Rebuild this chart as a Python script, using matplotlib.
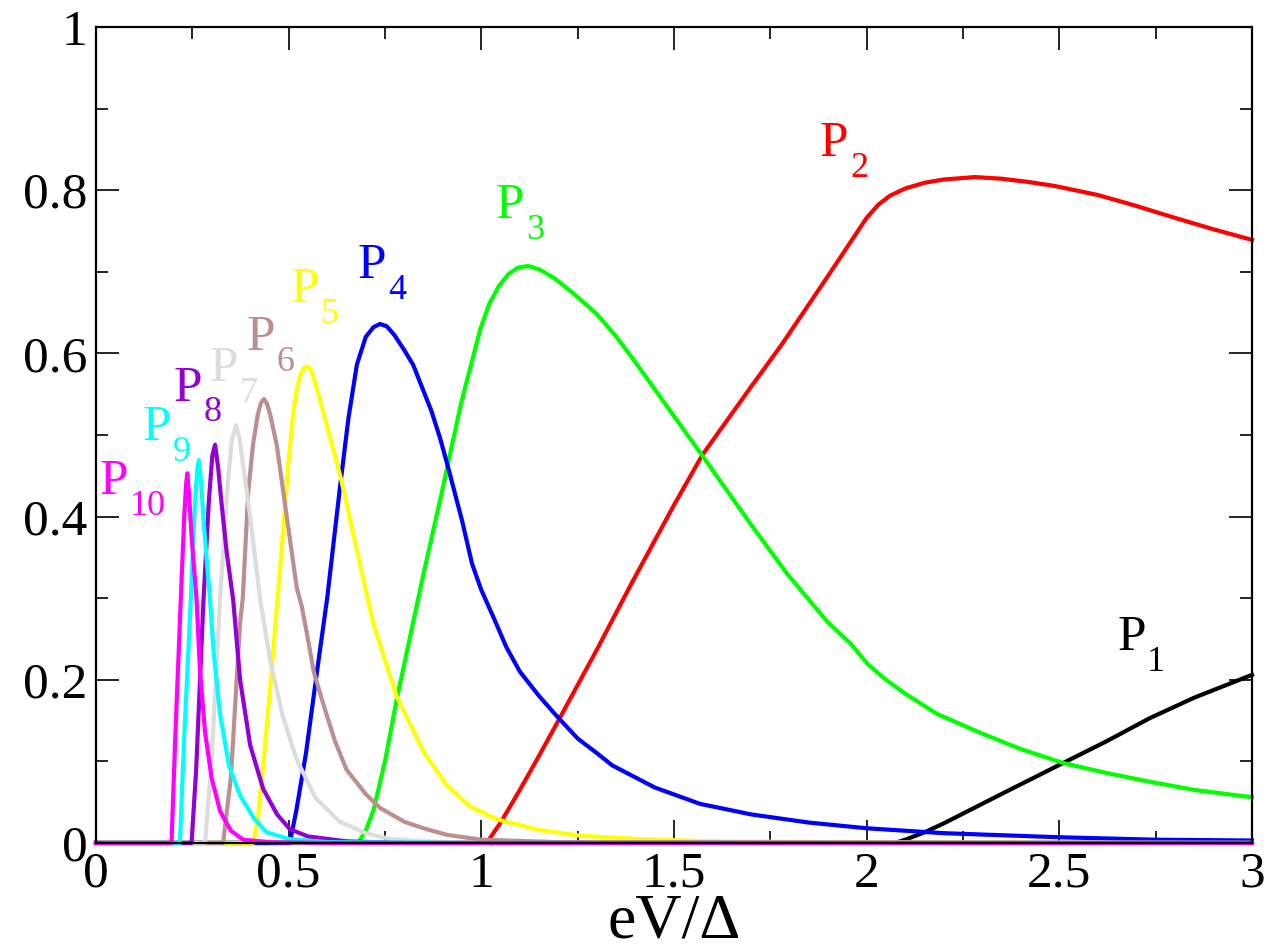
import matplotlib
matplotlib.use("Agg")
import matplotlib.pyplot as plt
from matplotlib.ticker import MultipleLocator, FormatStrFormatter

plt.rcParams['font.family'] = ['Liberation Serif', 'DejaVu Serif']

# curves (x = eV/Delta, y = P_n)
p1_x = [0, 2.06, 2.08, 2.1, 2.15, 2.2, 2.25, 2.35, 2.51, 2.62, 2.735, 2.85, 3.0]
p1_y = [0, 0, 0.001, 0.004, 0.013, 0.024, 0.036, 0.06, 0.098, 0.124, 0.153, 0.178, 0.206]

p2_x = [0, 1.0, 1.014, 1.05, 1.1, 1.15, 1.2, 1.3, 1.392, 1.5, 1.573, 1.7, 1.78, 1.9, 2.0,
        2.03, 2.06, 2.1, 2.15, 2.2, 2.281, 2.35, 2.42, 2.489, 2.6, 2.697, 2.8, 2.9, 3.0]
p2_y = [0, 0, 0, 0.025, 0.065, 0.107, 0.15, 0.237, 0.32, 0.414, 0.475, 0.559, 0.611, 0.695, 0.766,
        0.782, 0.793, 0.802, 0.809, 0.813, 0.816, 0.814, 0.81, 0.805, 0.794, 0.781, 0.766, 0.752, 0.739]

p3_x = [0, 0.675, 0.68, 0.70, 0.72, 0.75, 0.78, 0.85, 0.893, 0.948, 0.997, 1.02, 1.045, 1.07,
        1.095, 1.121, 1.15, 1.19, 1.24, 1.3, 1.351, 1.4, 1.5, 1.573, 1.7, 1.795, 1.9, 1.957,
        2.003, 2.05, 2.1, 2.183, 2.3, 2.4, 2.51, 2.62, 2.735, 2.85, 3.0]
p3_y = [0, 0, 0, 0.015, 0.04, 0.1, 0.175, 0.33, 0.42, 0.54, 0.629, 0.66, 0.682, 0.697,
        0.705, 0.707, 0.703, 0.692, 0.673, 0.648, 0.62, 0.589, 0.523, 0.475, 0.39, 0.329, 0.27, 0.245,
        0.219, 0.2, 0.183, 0.158, 0.134, 0.115, 0.098, 0.086, 0.075, 0.065, 0.056]

p4_x = [0, 0.495, 0.503, 0.52, 0.545, 0.573, 0.60, 0.633, 0.655, 0.677, 0.70, 0.72, 0.737,
        0.755, 0.775, 0.80, 0.823, 0.87, 0.893, 0.914, 0.95, 0.976, 1.0, 1.032, 1.065, 1.10,
        1.15, 1.191, 1.25, 1.30, 1.34, 1.45, 1.567, 1.7, 1.85, 2.0, 2.2, 2.5, 2.75, 3.0]
p4_y = [0, 0, 0, 0.04, 0.11, 0.208, 0.30, 0.435, 0.52, 0.586, 0.62, 0.632, 0.636,
        0.633, 0.622, 0.604, 0.586, 0.53, 0.496, 0.46, 0.395, 0.342, 0.31, 0.276, 0.24, 0.21,
        0.18, 0.158, 0.128, 0.11, 0.095, 0.068, 0.048, 0.035, 0.025, 0.018, 0.012, 0.007, 0.004, 0.003]

p5_x = [0, 0.40, 0.408, 0.42, 0.435, 0.452, 0.465, 0.482, 0.50, 0.512, 0.522, 0.532, 0.54,
        0.548, 0.556, 0.565, 0.58, 0.60, 0.637, 0.70, 0.719, 0.78, 0.85, 0.91, 0.97, 1.04,
        1.15, 1.256, 1.4, 1.6, 2.0, 3.0]
p5_y = [0, 0, 0, 0.03, 0.1, 0.19, 0.265, 0.36, 0.47, 0.527, 0.558, 0.576, 0.582,
        0.584, 0.581, 0.57, 0.545, 0.51, 0.444, 0.31, 0.27, 0.18, 0.112, 0.071, 0.045, 0.029,
        0.016, 0.009, 0.005, 0.002, 0.001, 0]

p6_x = [0, 0.322, 0.33, 0.35, 0.374, 0.381, 0.395, 0.408, 0.42, 0.428, 0.436, 0.444, 0.452,
        0.469, 0.495, 0.521, 0.534, 0.55, 0.565, 0.59, 0.62, 0.65, 0.7, 0.737, 0.8, 0.85,
        0.91, 1.0, 1.2, 3.0]
p6_y = [0, 0, 0, 0.08, 0.27, 0.30, 0.43, 0.49, 0.525, 0.539, 0.544, 0.538, 0.525,
        0.488, 0.40, 0.313, 0.29, 0.25, 0.21, 0.17, 0.125, 0.09, 0.06, 0.043, 0.026, 0.018,
        0.01, 0.004, 0.001, 0]

p7_x = [0, 0.276, 0.283, 0.30, 0.322, 0.342, 0.352, 0.363, 0.372, 0.38, 0.40, 0.426, 0.452,
        0.485, 0.521, 0.57, 0.633, 0.70, 0.763, 0.85, 1.0, 3.0]
p7_y = [0, 0, 0, 0.1, 0.3, 0.44, 0.492, 0.512, 0.497, 0.47, 0.40, 0.298, 0.224,
        0.155, 0.102, 0.055, 0.026, 0.012, 0.005, 0.002, 0, 0]

p8_x = [0, 0.242, 0.248, 0.26, 0.279, 0.293, 0.302, 0.309, 0.317, 0.325, 0.339, 0.356, 0.374,
        0.40, 0.434, 0.47, 0.503, 0.55, 0.65, 0.8, 3.0]
p8_y = [0, 0, 0, 0.09, 0.298, 0.42, 0.475, 0.488, 0.46, 0.42, 0.357, 0.298, 0.2,
        0.12, 0.066, 0.035, 0.017, 0.008, 0.002, 0, 0]

p9_x = [0, 0.212, 0.218, 0.228, 0.246, 0.256, 0.263, 0.267, 0.272, 0.28, 0.296, 0.305, 0.322,
        0.345, 0.374, 0.41, 0.443, 0.5, 0.6, 1.0, 3.0]
p9_y = [0, 0, 0, 0.12, 0.298, 0.41, 0.458, 0.469, 0.445, 0.39, 0.298, 0.235, 0.158,
        0.095, 0.058, 0.03, 0.013, 0.005, 0.001, 0, 0]

p10_x = [0, 0.19, 0.196, 0.205, 0.22, 0.229, 0.234, 0.237, 0.241, 0.249, 0.261, 0.27, 0.283,
         0.30, 0.322, 0.35, 0.382, 0.45, 0.6, 1.0, 3.0]
p10_y = [0, 0, 0, 0.12, 0.298, 0.40, 0.44, 0.453, 0.43, 0.37, 0.298, 0.21, 0.136,
         0.08, 0.039, 0.015, 0.004, 0.001, 0, 0, 0]

curves_x = [p1_x, p2_x, p3_x, p4_x, p5_x, p6_x, p7_x, p8_x, p9_x, p10_x]
curves_y = [p1_y, p2_y, p3_y, p4_y, p5_y, p6_y, p7_y, p8_y, p9_y, p10_y]
names = ["1", "2", "3", "4", "5", "6", "7", "8", "9", "10"]
# xmgrace default palette
colors = ["#000000", "#ff0000", "#00ff00", "#0000ff", "#ffff00",
          "#bc8f8f", "#dcdcdc", "#9400d3", "#00ffff", "#ff00ff"]
# where each "P_n" label sits (left edge, baseline)
label_pos = [(2.650, 0.2365), (1.879, 0.842), (1.038, 0.766), (0.680, 0.692),
             (0.506, 0.663), (0.392, 0.604), (0.296, 0.566), (0.202, 0.542),
             (0.122, 0.494), (0.010, 0.428)]

fig = plt.figure(figsize=(12.85, 9.51), dpi=100)
ax = fig.add_axes([0.0747, 0.1136, 0.8996, 0.8581])

for xs, ys, c in zip(curves_x, curves_y, colors):
    ax.plot(xs, ys, color=c, lw=3, clip_on=False, zorder=2, solid_joinstyle="round")

for (lx, ly), n, c in zip(label_pos, names, colors):
    ax.text(lx, ly, "P", color=c, fontsize=37, ha="left", va="baseline")
    ax.annotate(n, (lx, ly), xytext=(21.5, -15), textcoords="offset points",
                color=c, fontsize=26, ha="left", va="baseline")

ax.set_xlim(0, 3)
ax.set_ylim(0, 1)
ax.xaxis.set_major_locator(MultipleLocator(0.5))
ax.xaxis.set_minor_locator(MultipleLocator(0.25))
ax.yaxis.set_major_locator(MultipleLocator(0.2))
ax.yaxis.set_minor_locator(MultipleLocator(0.1))
ax.xaxis.set_major_formatter(FormatStrFormatter("%g"))
ax.yaxis.set_major_formatter(FormatStrFormatter("%g"))
ax.tick_params(which="both", direction="in", top=True, right=True, width=1.2,
               labelsize=37)
ax.tick_params(which="major", length=16.5)
ax.tick_params(which="minor", length=8.5)
ax.tick_params(axis="x", which="major", pad=6)
ax.tick_params(axis="y", which="major", pad=6)
for s in ax.spines.values():
    s.set_linewidth(1.6)
    s.set_zorder(3)

ax.set_xlabel("eV/\u0394", fontsize=46, labelpad=-3)

fig.savefig("out.png", dpi=100)
